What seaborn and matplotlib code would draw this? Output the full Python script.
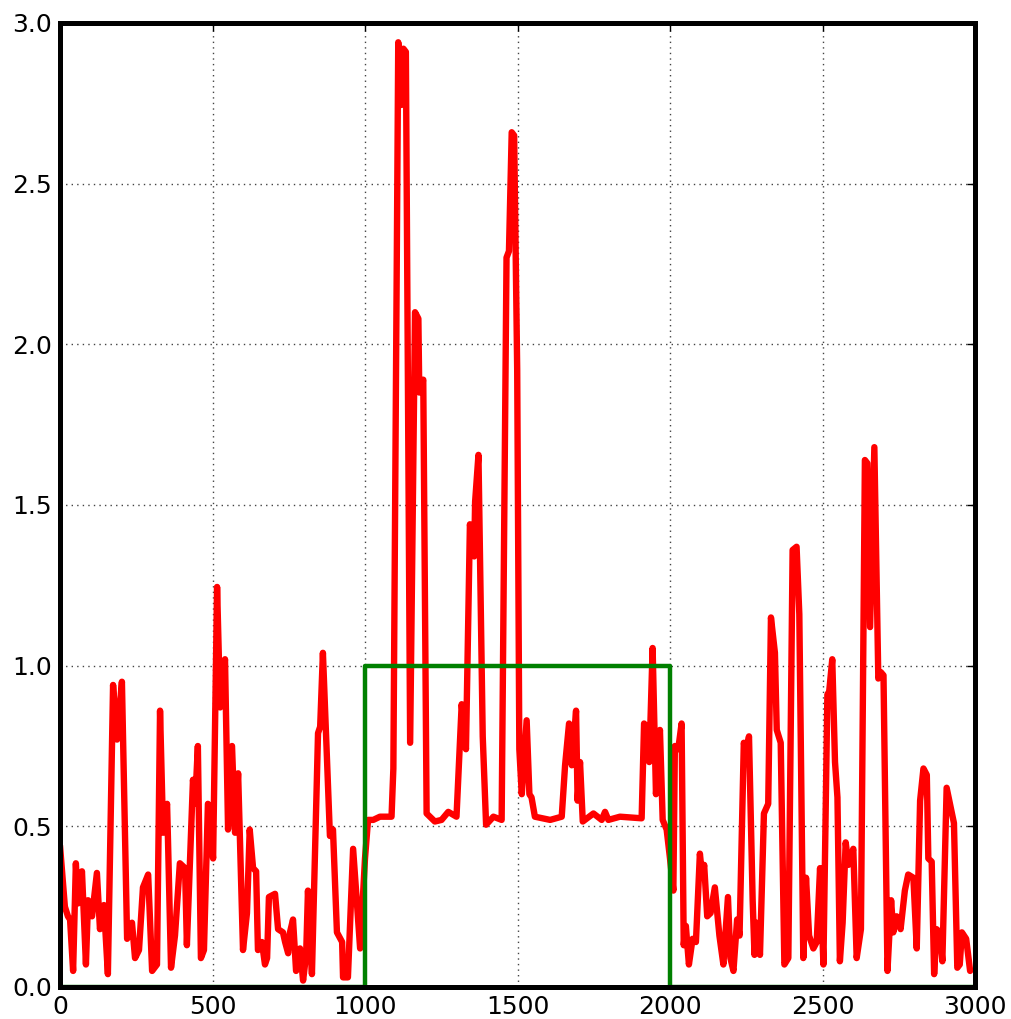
import matplotlib
matplotlib.use("Agg")
import matplotlib.pyplot as plt
import seaborn as sns
import pandas as pd

# red signal, in three stretches
part1_x = [0, 16, 26, 33, 43, 52, 59, 72, 85, 92, 105, 121, 131, 144, 157, 174, 187, 203, 220, 236,
           246, 259, 272, 289, 302, 318, 328, 338, 351, 354, 364, 377, 393, 410, 416, 436, 443, 452, 462, 472,
           485, 502, 515, 525, 541, 551, 564, 574, 584, 600, 613, 622, 633, 643, 649, 662, 672, 679, 685, 705,
           715, 731, 738, 748, 754, 764, 774, 787, 797, 807, 813, 826, 846, 853, 862, 885, 895, 908, 925, 928,
           944, 961, 984]
part1_y = [0.44, 0.25, 0.22, 0.21, 0.05, 0.385, 0.26, 0.36, 0.07, 0.27, 0.22, 0.355, 0.18, 0.255, 0.04, 0.94, 0.77, 0.95, 0.15, 0.20,
           0.09, 0.115, 0.31, 0.35, 0.05, 0.07, 0.86, 0.48, 0.57, 0.46, 0.06, 0.16, 0.385, 0.37, 0.13, 0.645, 0.57, 0.75, 0.09, 0.115,
           0.57, 0.40, 1.245, 0.87, 1.02, 0.49, 0.75, 0.48, 0.665, 0.115, 0.23, 0.49, 0.37, 0.36, 0.115, 0.14, 0.07, 0.09, 0.28, 0.29,
           0.18, 0.17, 0.14, 0.105, 0.17, 0.21, 0.05, 0.12, 0.02, 0.10, 0.30, 0.04, 0.79, 0.81, 1.04, 0.47, 0.49, 0.17, 0.14, 0.03,
           0.03, 0.43, 0.12]

part2_x = [1000, 1010, 1027, 1049, 1087, 1093, 1109, 1120, 1126, 1134, 1148, 1164, 1175, 1178, 1191, 1202, 1229,
           1251, 1273, 1300, 1317, 1331, 1344, 1358, 1361, 1372, 1386, 1397, 1421, 1448, 1464, 1472, 1481,
           1489, 1499, 1506, 1514, 1530, 1539, 1546, 1557, 1607, 1645, 1656, 1669, 1678, 1692, 1697, 1705,
           1714, 1749, 1776, 1787, 1798, 1836, 1907, 1915, 1923, 1932, 1943, 1954, 1967, 1976, 1989]
part2_y = [0.40, 0.52, 0.52, 0.53, 0.53, 0.68, 2.94, 2.745, 2.92, 2.91, 0.76, 2.10, 2.08, 1.85, 1.89, 0.54, 0.515,
           0.52, 0.545, 0.53, 0.88, 0.74, 1.44, 1.34, 1.51, 1.656, 0.78, 0.505, 0.53, 0.52, 2.27, 2.29, 2.66,
           2.65, 1.92, 0.74, 0.60, 0.83, 0.60, 0.59, 0.53, 0.52, 0.53, 0.69, 0.82, 0.69, 0.86, 0.58, 0.70,
           0.515, 0.54, 0.52, 0.545, 0.52, 0.53, 0.525, 0.82, 0.81, 0.70, 1.055, 0.60, 0.80, 0.52, 0.49]

part3_x = [2000, 2011, 2016, 2027, 2038, 2045, 2052, 2062, 2074, 2085, 2098, 2106, 2112, 2122, 2133, 2147, 2162,
           2175, 2190, 2198, 2208, 2220, 2228, 2242, 2249, 2259, 2271, 2277, 2284, 2295, 2308, 2322, 2331,
           2344, 2350, 2363, 2375, 2388, 2402, 2415, 2424, 2437, 2446, 2456, 2470, 2481, 2492, 2503, 2516,
           2522, 2532, 2541, 2549, 2557, 2566, 2576, 2585, 2601, 2612, 2626, 2639, 2647, 2656, 2670, 2683,
           2691, 2700, 2713, 2725, 2732, 2743, 2756, 2770, 2781, 2798, 2809, 2820, 2831, 2842, 2847, 2858,
           2866, 2874, 2885, 2893, 2907, 2918, 2931, 2942, 2950, 2957, 2971, 2984]
part3_y = [0.40, 0.30, 0.75, 0.74, 0.82, 0.13, 0.19, 0.07, 0.15, 0.14, 0.415, 0.34, 0.38, 0.22, 0.23, 0.31, 0.16,
           0.07, 0.28, 0.09, 0.05, 0.21, 0.16, 0.76, 0.73, 0.78, 0.27, 0.10, 0.20, 0.10, 0.54, 0.57, 1.15,
           1.04, 0.80, 0.76, 0.07, 0.09, 1.36, 1.37, 1.16, 0.09, 0.34, 0.16, 0.12, 0.14, 0.37, 0.07, 0.91,
           0.92, 1.02, 0.70, 0.59, 0.08, 0.20, 0.45, 0.38, 0.43, 0.09, 0.18, 1.64, 1.63, 1.12, 1.68, 0.96,
           0.98, 0.97, 0.05, 0.27, 0.17, 0.22, 0.18, 0.30, 0.35, 0.34, 0.12, 0.58, 0.68, 0.66, 0.40, 0.39,
           0.04, 0.18, 0.17, 0.08, 0.62, 0.57, 0.51, 0.06, 0.07, 0.17, 0.15, 0.05]

# green reference window
window_x = [0, 1000, 1000, 2000, 2000, 3000]
window_y = [0, 0, 1, 1, 0, 0]

x_ticks = [0, 500, 1000, 1500, 2000, 2500, 3000]
y_ticks = [0.0, 0.5, 1.0, 1.5, 2.0, 2.5, 3.0]

sns.set_style("white")
plt.rcParams['font.family'] = ['DejaVu Sans']

fig = plt.figure(figsize=(10.11, 10.19), dpi=100)
ax = fig.add_axes([60 / 1011, 1 - 987 / 1019, 915 / 1011, 964 / 1019])

sig = pd.DataFrame({"x": part1_x + part2_x + part3_x,
                    "y": part1_y + part2_y + part3_y})
win = pd.DataFrame({"x": window_x, "y": window_y})

sns.lineplot(data=sig, x="x", y="y", ax=ax, color=(1, 0, 0), linewidth=4.6,
             sort=False, estimator=None, zorder=2,
             solid_joinstyle="round", solid_capstyle="round")
sns.lineplot(data=win, x="x", y="y", ax=ax, color=(0, 0.5, 0), linewidth=3.2,
             sort=False, estimator=None, zorder=3)

ax.set_xlim(0, 3000)
ax.set_ylim(0, 3.0)
ax.set_xticks(x_ticks)
ax.set_yticks(y_ticks)
ax.set_xticklabels([str(t) for t in x_ticks])
ax.set_yticklabels([f"{t:.1f}" for t in y_ticks])
ax.set_xlabel("")
ax.set_ylabel("")
ax.grid(True, color="#444444", linestyle=(0, (1, 3)), linewidth=1.0)
ax.set_axisbelow(True)
for s in ax.spines.values():
    s.set_color("black")
    s.set_linewidth(3.6)
    s.set_zorder(5)
ax.tick_params(axis="both", direction="in", length=6, width=1, labelsize=18,
               colors="black", pad=6, top=True, right=True)

fig.savefig("out.png", dpi=100)
